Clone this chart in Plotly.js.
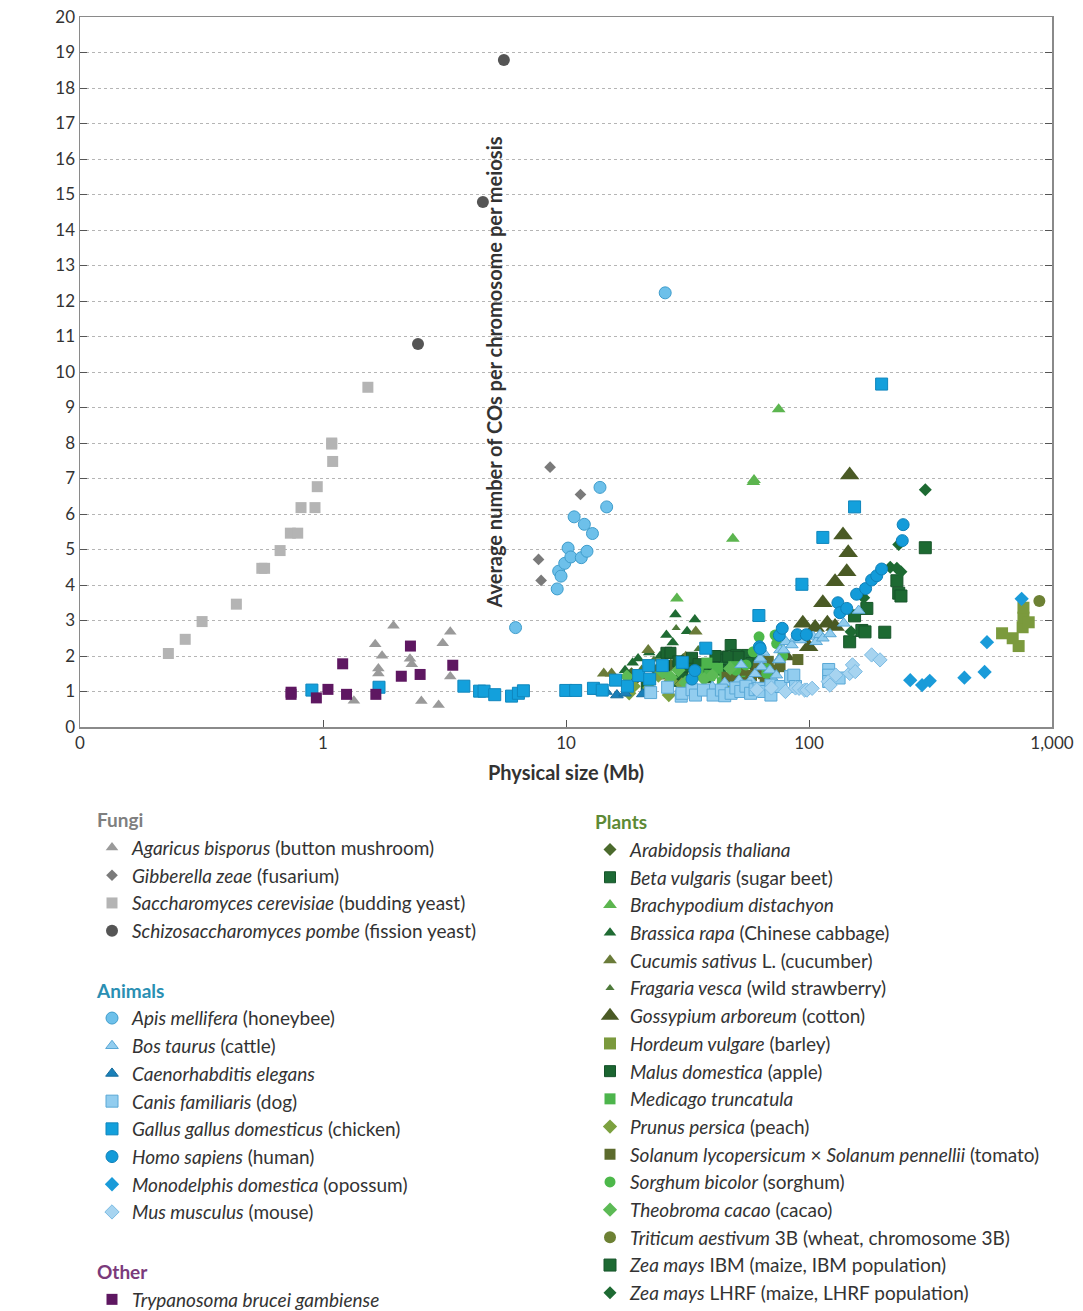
<!DOCTYPE html>
<html><head><meta charset="utf-8">
<script src="https://cdn.plot.ly/plotly-3.0.1.min.js"></script>
<style>html,body{margin:0;padding:0;background:#fff}</style>
</head><body><div id="chart" style="width:1083px;height:1311px"></div>
<script>
// ---- Fungi ----
const agaricusX = [1.34, 1.64, 1.69, 1.69, 1.75, 1.95, 2.28, 2.32, 2.54, 2.99, 3.11, 3.34, 3.34];
const agaricusY = [0.74, 2.33, 1.65, 1.51, 2.01, 2.85, 1.92, 1.77, 0.73, 0.62, 2.36, 2.68, 1.42];
const gibberellaX = [7.71, 7.9, 8.6, 11.47];
const gibberellaY = [4.72, 4.13, 7.32, 6.55];
const saccharoX = [0.231, 0.271, 0.318, 0.44, 0.56, 0.575, 0.666, 0.734, 0.787, 0.812, 0.927, 0.947, 1.086, 1.086, 1.096, 1.53];
const saccharoY = [2.07, 2.47, 2.97, 3.46, 4.47, 4.47, 4.97, 5.46, 5.46, 6.18, 6.18, 6.77, 7.97, 8.0, 7.48, 9.57];
const pombeX = [2.46, 4.55, 5.55];
const pombeY = [10.79, 14.79, 18.79];
// ---- Animals ----
const apisX = [6.2, 9.2, 9.33, 9.54, 9.88, 10.2, 10.47, 10.8, 11.56, 11.9, 12.2, 12.85, 13.8, 14.7, 25.6];
const apisY = [2.8, 3.89, 4.39, 4.25, 4.61, 5.04, 4.79, 5.92, 4.77, 5.71, 4.95, 5.45, 6.75, 6.2, 12.23];
const bosX = [40, 45, 51.5, 52.6, 57.5, 60, 63, 63, 63.7, 65, 69, 72, 73.4, 75, 75.5, 76, 78.6, 80.4, 85, 88, 92, 104, 107, 111, 114, 122, 139, 160];
const bosY = [1.14, 1.25, 1.32, 1.75, 1.32, 1.5, 1.89, 1.93, 1.69, 2.1, 1.6, 1.3, 1.46, 1.89, 1.89, 2.17, 2.17, 2.4, 2.31, 2.5, 2.45, 2.55, 2.4, 2.6, 2.5, 2.62, 2.92, 3.28];
const elegansX = [13.05, 13.9, 14.6, 16.2, 17.5, 20.7];
const elegansY = [1.0, 1.0, 1.0, 0.9, 0.95, 0.93];
const canisX = [22.3, 26.2, 29.8, 30, 33, 34.1, 36.8, 40.3, 43.6, 45, 47.8, 50, 52.4, 55, 57.5, 60, 62.3, 65, 69.7, 69.7, 76.6, 84, 86.6, 88, 120.5, 120.5, 120.5, 133];
const canisY = [0.97, 1.12, 0.87, 0.95, 1.05, 0.9, 1.04, 0.9, 1.04, 0.88, 0.95, 1.1, 1.0, 1.15, 0.95, 1.05, 1.09, 1.0, 1.18, 0.9, 1.14, 1.42, 1.46, 1.14, 1.62, 1.46, 1.28, 1.38];
const gallusX = [0.9, 1.70, 3.8, 4.41, 4.6, 5.09, 5.97, 6.37, 6.68, 9.98, 10.96, 12.97, 14.1, 16.0, 17.9, 19.9, 22.1, 21.9, 24.9, 30.1, 37.6, 62.2, 93.5, 114, 154, 199];
const gallusY = [1.04, 1.12, 1.15, 1.01, 1.01, 0.91, 0.87, 0.95, 1.02, 1.03, 1.03, 1.09, 1.04, 1.32, 1.15, 1.45, 1.35, 1.73, 1.73, 1.82, 2.22, 3.14, 4.02, 5.34, 6.2, 9.66];
const homoX = [33.0, 33.9, 62.5, 63, 75.5, 77.6, 89.5, 97.5, 131.5, 134, 143, 157, 171, 181, 190, 199, 242, 244];
const homoY = [1.35, 1.59, 2.26, 2.21, 2.58, 2.78, 2.6, 2.6, 3.5, 3.22, 3.34, 3.74, 3.9, 4.14, 4.26, 4.45, 5.25, 5.7];
const monodelphisX = [261, 292, 314, 436, 528, 540, 750];
const monodelphisY = [1.32, 1.18, 1.30, 1.39, 1.55, 2.39, 3.61];
const musX = [61, 70, 80, 88, 91, 96, 98, 103, 120, 122, 129, 147, 151, 155, 181, 196];
const musY = [1.05, 1.1, 1.0, 1.1, 1.09, 1.04, 1.04, 1.09, 1.28, 1.18, 1.46, 1.51, 1.75, 1.56, 2.03, 1.89];
// ---- Other ----
const trypanoX = [0.739, 0.739, 0.939, 1.048, 1.205, 1.25, 1.65, 2.1, 2.29, 2.51, 3.42];
const trypanoY = [0.98, 0.92, 0.82, 1.06, 1.78, 0.92, 0.92, 1.43, 2.28, 1.48, 1.74];
// ---- Plants ----
const arabidopsisX = [18.6, 19.7, 23.5, 27.0, 30.4];
const arabidopsisY = [1.5, 1.4, 1.6, 1.75, 1.9];
const betaX = [44, 44, 44.9, 47.6, 50.2, 55.8, 58, 62, 66];
const betaY = [1.98, 1.75, 1.9, 2.31, 2.03, 2.03, 1.8, 2.0, 1.7];
const brachyX = [28.6, 48.6, 59, 59.4, 75];
const brachyY = [3.62, 5.3, 6.9, 6.96, 8.95];
const brassicaX = [17.5, 18.8, 19.8, 22, 24.4, 25.9, 27.5, 28.2, 31.5, 33.9];
const brassicaY = [1.6, 1.81, 1.93, 2.1, 2.0, 2.59, 2.38, 3.17, 2.7, 3.03];
const cucumisX = [14.3, 15.4, 21.8, 24.2, 28.9, 31.1, 34.2];
const cucumisY = [1.51, 1.51, 2.17, 1.42, 1.39, 1.98, 2.69];
const fragariaX = [20.5, 23, 26, 28.4, 30, 35, 38];
const fragariaY = [1.65, 1.9, 1.55, 2.79, 1.75, 2.2, 1.6];
const gossypiumX = [59, 80, 94.3, 99.7, 106, 114, 119, 128, 128, 138, 143, 145, 147];
const gossypiumY = [1.51, 2.0, 2.92, 2.26, 2.8, 3.5, 2.92, 2.83, 4.09, 5.41, 4.37, 4.91, 7.1];
const hordeumX = [623, 689, 729, 757, 763, 763, 802];
const hordeumY = [2.64, 2.50, 2.28, 2.81, 3.08, 3.36, 2.95];
const malusX = [21.5, 25.3, 25.9, 26.9, 28, 29, 30, 32, 33, 35.1, 37, 38, 40.5, 41.2, 43, 46.5, 51.3];
const malusY = [1.14, 1.72, 2.09, 2.09, 1.3, 1.85, 1.5, 1.7, 1.95, 1.77, 1.55, 1.4, 1.77, 2.0, 1.6, 1.98, 1.98];
const medicagoX = [35, 38, 39, 42, 44, 45, 49, 52];
const medicagoY = [1.55, 1.8, 1.45, 1.65, 1.25, 1.4, 1.7, 1.5];
const prunusX = [18.2, 19, 22, 24, 26.5, 27, 30, 46];
const prunusY = [0.95, 1.15, 1.1, 1.45, 0.9, 1.3, 1.2, 1.25];
const solanumX = [46, 50, 53, 55, 58, 62, 65, 66, 68, 72, 76, 90];
const solanumY = [1.4, 1.35, 1.6, 1.25, 1.45, 1.7, 1.5, 1.3, 1.85, 1.6, 1.7, 1.9];
const sorghumX = [50, 55, 59, 62.3, 67, 67, 72.5, 73.6, 73.6, 78];
const sorghumY = [1.6, 1.75, 2.12, 2.54, 1.65, 1.51, 2.59, 2.59, 2.35, 2.0];
const theobromaX = [17.8, 22, 25, 27, 29, 31, 34, 37, 40, 47.4];
const theobromaY = [1.42, 1.3, 1.55, 1.4, 1.6, 1.25, 1.5, 1.35, 1.45, 1.65];
const triticumX = [887];
const triticumY = [3.55];
const zeaIbmX = [147, 154, 165, 170, 173, 205, 230, 234, 239, 301];
const zeaIbmY = [2.4, 3.13, 2.72, 2.68, 3.34, 2.67, 4.12, 3.77, 3.69, 5.05];
const zeaLhrfX = [149, 168, 216, 230, 239, 234, 301];
const zeaLhrfY = [2.68, 3.64, 4.5, 4.47, 4.37, 5.14, 6.68];

// ---- axis ticks ----
const xTickVals = [0.1, 1, 10, 100, 1000];
const xTickText = ['0', '1', '10', '100', '1,000'];
const yTickVals = [0,1,2,3,4,5,6,7,8,9,10,11,12,13,14,15,16,17,18,19,20];

function tr(name, x, y, group, gtitle, gcolor, legend, symbol, size, color, lineColor, lineWidth) {
  return {
    type: 'scatter', mode: 'markers', x: x, y: y, name: name,
    legend: legend, legendgroup: group,
    legendgrouptitle: {text: gtitle, font: {size: 19, color: gcolor, weight: 'bold'}},
    marker: {symbol: symbol, size: size, color: color,
             line: {color: lineColor || color, width: lineWidth == null ? 0 : lineWidth}},
    hoverinfo: 'skip'
  };
}

const FG = '#7f7f7f', AN = '#2a8fb3', OT = '#7b3a7b', PL = '#5d8a35';
const data = [
  tr('<i>Arabidopsis thaliana</i>', arabidopsisX, arabidopsisY, 'plants', 'Plants', PL, 'legend2', 'diamond', 10, '#4b6a2c'),
  tr('<i>Beta vulgaris</i> (sugar beet)', betaX, betaY, 'plants', 'Plants', PL, 'legend2', 'square', 11, '#1d6a35', '#17552a', 1),
  tr('<i>Brachypodium distachyon</i>', brachyX, brachyY, 'plants', 'Plants', PL, 'legend2', 'triangle-up', 12, '#5cb54f'),
  tr('<i>Brassica rapa</i> (Chinese cabbage)', brassicaX, brassicaY, 'plants', 'Plants', PL, 'legend2', 'triangle-up', 11, '#1f6b33'),
  tr('<i>Cucumis sativus</i> L. (cucumber)', cucumisX, cucumisY, 'plants', 'Plants', PL, 'legend2', 'triangle-up', 12, '#6a7b39'),
  tr('<i>Fragaria vesca</i> (wild strawberry)', fragariaX, fragariaY, 'plants', 'Plants', PL, 'legend2', 'triangle-up', 8, '#4f7a3b'),
  tr('<i>Gossypium arboreum</i> (cotton)', gossypiumX, gossypiumY, 'plants', 'Plants', PL, 'legend2', 'triangle-up', 17, '#4a5a25'),
  tr('<i>Hordeum vulgare</i> (barley)', hordeumX, hordeumY, 'plants', 'Plants', PL, 'legend2', 'square', 12, '#7b9a3d'),
  tr('<i>Malus domestica</i> (apple)', malusX, malusY, 'plants', 'Plants', PL, 'legend2', 'square', 11, '#1b6530', '#16522a', 1),
  tr('<i>Medicago truncatula</i>', medicagoX, medicagoY, 'plants', 'Plants', PL, 'legend2', 'square', 11, '#4db54c'),
  tr('<i>Prunus persica</i> (peach)', prunusX, prunusY, 'plants', 'Plants', PL, 'legend2', 'diamond', 11, '#7ca13f'),
  tr('<i>Solanum lycopersicum</i> × <i>Solanum pennellii</i> (tomato)', solanumX, solanumY, 'plants', 'Plants', PL, 'legend2', 'square', 11, '#5c6b2d'),
  tr('<i>Sorghum bicolor</i> (sorghum)', sorghumX, sorghumY, 'plants', 'Plants', PL, 'legend2', 'circle', 11, '#4db84a'),
  tr('<i>Theobroma cacao</i> (cacao)', theobromaX, theobromaY, 'plants', 'Plants', PL, 'legend2', 'diamond', 11, '#5cba55'),
  tr('<i>Triticum aestivum</i> 3B (wheat, chromosome 3B)', triticumX, triticumY, 'plants', 'Plants', PL, 'legend2', 'circle', 12, '#6d8134'),
  tr('<i>Zea mays</i> IBM (maize, IBM population)', zeaIbmX, zeaIbmY, 'plants', 'Plants', PL, 'legend2', 'square', 12, '#1d6a32', '#17552a', 1),
  tr('<i>Zea mays</i> LHRF (maize, LHRF population)', zeaLhrfX, zeaLhrfY, 'plants', 'Plants', PL, 'legend2', 'diamond', 10, '#1d6a32'),
  tr('<i>Agaricus bisporus</i> (button mushroom)', agaricusX, agaricusY, 'fungi', 'Fungi', FG, 'legend', 'triangle-up', 11, '#9a9a9a'),
  tr('<i>Gibberella zeae</i> (fusarium)', gibberellaX, gibberellaY, 'fungi', 'Fungi', FG, 'legend', 'diamond', 9, '#7a7a7a'),
  tr('<i>Saccharomyces cerevisiae</i> (budding yeast)', saccharoX, saccharoY, 'fungi', 'Fungi', FG, 'legend', 'square', 11, '#b4b4b4'),
  tr('<i>Schizosaccharomyces pombe</i> (fission yeast)', pombeX, pombeY, 'fungi', 'Fungi', FG, 'legend', 'circle', 12, '#555555'),
  tr('<i>Apis mellifera</i> (honeybee)', apisX, apisY, 'animals', 'Animals', AN, 'legend', 'circle', 12, '#6dc0ea', '#3f9dcc', 1),
  tr('<i>Bos taurus</i> (cattle)', bosX, bosY, 'animals', 'Animals', AN, 'legend', 'triangle-up', 11, '#92cdef', '#5aa8d6', 1),
  tr('<i>Caenorhabditis elegans</i>', elegansX, elegansY, 'animals', 'Animals', AN, 'legend', 'triangle-up', 11, '#1a80b9', '#166c9c', 1),
  tr('<i>Canis familiaris</i> (dog)', canisX, canisY, 'animals', 'Animals', AN, 'legend', 'square', 12, '#92cdef', '#5aa8d6', 1),
  tr('<i>Gallus gallus domesticus</i> (chicken)', gallusX, gallusY, 'animals', 'Animals', AN, 'legend', 'square', 12, '#13a0dc', '#0f86bd', 1),
  tr('<i>Homo sapiens</i> (human)', homoX, homoY, 'animals', 'Animals', AN, 'legend', 'circle', 12, '#139bd9', '#0e80b8', 1),
  tr('<i>Monodelphis domestica</i> (opossum)', monodelphisX, monodelphisY, 'animals', 'Animals', AN, 'legend', 'diamond', 11, '#1a9bd9'),
  tr('<i>Mus musculus</i> (mouse)', musX, musY, 'animals', 'Animals', AN, 'legend', 'diamond', 11, '#a7d4f0', '#7bbbe3', 1),
  tr('<i>Trypanosoma brucei gambiense</i>', trypanoX, trypanoY, 'other', 'Other', OT, 'legend', 'square', 11, '#5e1761')
];

const FONT = 'Lato, "Open Sans", sans-serif';
const layout = {
  width: 1083, height: 1311,
  margin: {l: 80, r: 31, t: 17, b: 584, autoexpand: false},
  paper_bgcolor: '#ffffff', plot_bgcolor: '#ffffff',
  font: {family: FONT, color: '#333333', size: 17},
  showlegend: true,
  xaxis: {
    type: 'log', range: [-1, 3], tickvals: xTickVals, ticktext: xTickText, tickangle: 0,
    ticks: 'inside', ticklen: 7, tickcolor: '#555', showgrid: false, zeroline: false,
    showline: true, linecolor: '#8a8a8a', linewidth: 1.5, mirror: true,
    tickfont: {size: 17, color: '#333'},
    title: {text: '<b>Physical size (Mb)</b>', font: {size: 20, color: '#333'}, standoff: 14},
    automargin: false
  },
  yaxis: {
    range: [0, 20], tickvals: yTickVals, ticks: 'inside', ticklen: 7, tickcolor: '#555',
    showgrid: true, gridcolor: '#b5b5b5', griddash: 'dot', gridwidth: 1, zeroline: false,
    showline: true, linecolor: '#8a8a8a', linewidth: 1.5, mirror: 'ticks',
    tickfont: {size: 17, color: '#333'},
    title: {text: '<b>Average number of COs per chromosome per meiosis</b>', font: {size: 20, color: '#333'}},
    automargin: false
  },
  legend: {
    xref: 'container', yref: 'container', x: 92/1083, y: 1 - 801/1311,
    xanchor: 'left', yanchor: 'top', traceorder: 'grouped', tracegroupgap: 32,
    font: {size: 19, color: '#333', family: FONT}, bgcolor: 'rgba(0,0,0,0)', borderwidth: 0,
    itemclick: false, itemdoubleclick: false
  },
  legend2: {
    xref: 'container', yref: 'container', x: 590/1083, y: 1 - 803/1311,
    xanchor: 'left', yanchor: 'top', traceorder: 'grouped',
    font: {size: 19, color: '#333', family: FONT}, bgcolor: 'rgba(0,0,0,0)', borderwidth: 0,
    itemclick: false, itemdoubleclick: false
  }
};

Plotly.newPlot('chart', data, layout, {displayModeBar: false, staticPlot: true});
</script>
</body></html>
